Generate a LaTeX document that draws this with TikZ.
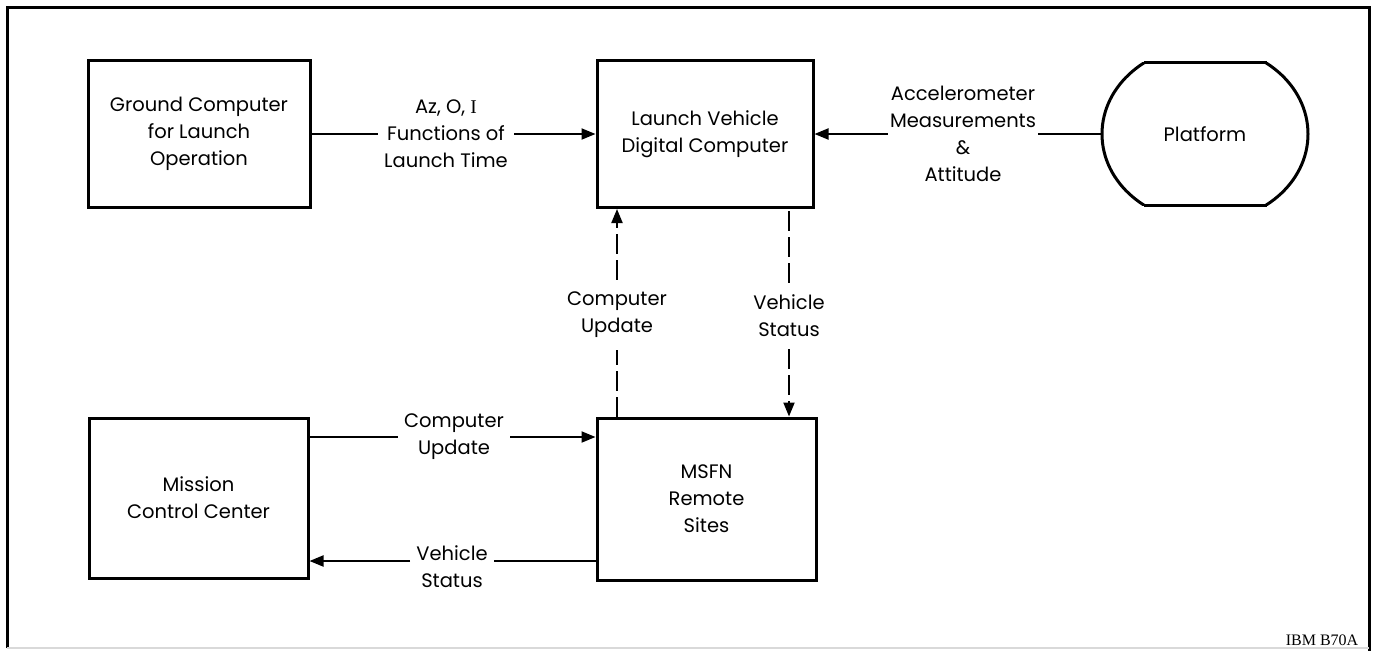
\documentclass[tikz,border=0pt]{standalone}
\usepackage{fontspec}
\setmainfont{Poppins}
\newfontfamily\serifIBM{Liberation Serif}
\usetikzlibrary{arrows.meta,calc}
\begin{document}
\begin{tikzpicture}[x=1pt,y=-1pt,
  every node/.style={font=\fontsize{19.5}{27}\selectfont},
  box/.style={draw,line width=3pt,align=center,inner sep=0pt},
  lab/.style={align=center,inner xsep=6pt,inner ysep=0pt},
  vlab/.style={align=center,inner xsep=0pt,inner ysep=12pt},
  conn/.style={line width=2pt},
  arr/.style={conn,-{Triangle[length=14pt,width=11pt]}},
  dsh/.style={conn,dash pattern=on 20pt off 6pt}
]
\useasboundingbox (0,0) rectangle (1374,651);
% frame
\draw[line width=3pt] (7,648) -- (7,7) -- (1369,7) -- (1369,651);
\draw[black!15,line width=1.5pt] (7,648) -- (1369,648);

% boxes
\node[box,minimum width=222pt,minimum height=147pt] (gc) at (199,134) {Ground Computer\\for Launch\\Operation};
\node[box,minimum width=216pt,minimum height=147pt] (lvdc) at (705,134) {Launch Vehicle\\Digital Computer};
\node[box,minimum width=219pt,minimum height=160pt] (mcc) at (198.5,498) {Mission\\Control Center};
\node[box,minimum width=219pt,minimum height=162pt] (msfn) at (706.5,499) {MSFN\\Remote\\Sites};
\node[minimum width=206pt,minimum height=143pt,inner sep=0pt] (plat) at (1205,134) {Platform};
\begin{scope}
\clip (1090,62.5) rectangle (1330,205.5);
\draw[line width=3pt] (plat.center) ellipse [x radius=103pt, y radius=88.3pt];
\end{scope}
\draw[line width=3pt] (1143.5,62.5) -- (1266.5,62.5);
\draw[line width=3pt] (1143.5,205.5) -- (1266.5,205.5);

% labels
\node[lab] (az) at (446,134) {Az, O, {\serifIBM I}\\Functions of\\Launch Time};
\node[lab,inner xsep=2pt] (acc) at (963,134) {Accelerometer\\Measurements\\\&\\Attitude};
\node[vlab] (cu1) at (617,315) {Computer\\Update};
\node[vlab] (vs1) at (789,316) {Vehicle\\Status};
\node[lab] (cu2) at (454,437) {Computer\\Update};
\node[lab] (vs2) at (452,567) {Vehicle\\Status};
\coordinate (vsy) at (0,561);

% connectors
\draw[conn] (gc.east) -- (az.west);
\draw[arr] (az.east) -- (lvdc.west);
\draw[conn] (plat.west) -- (acc.east);
\draw[arr] (acc.west) -- (lvdc.east);

\draw[dsh] (cu1.south |- msfn.north) -- (cu1.south);
\draw[dsh,arr] (cu1.north) -- (cu1.north |- lvdc.south);
\draw[dsh] (vs1.north) -- (vs1.north |- lvdc.south);
\draw[dsh,arr] (vs1.south) -- (vs1.south |- msfn.north);

\draw[conn] (cu2.west -| mcc.east) -- (cu2.west);
\draw[arr] (cu2.east) -- (cu2.east -| msfn.west);
\draw[conn] (vsy -| msfn.west) -- (vsy -| vs2.east);
\draw[arr] (vsy -| vs2.west) -- (vsy -| mcc.east);

\node[font=\serifIBM\fontsize{16}{16}\selectfont] (ibm) at (1322,640) {IBM B70A};
\end{tikzpicture}
\end{document}
